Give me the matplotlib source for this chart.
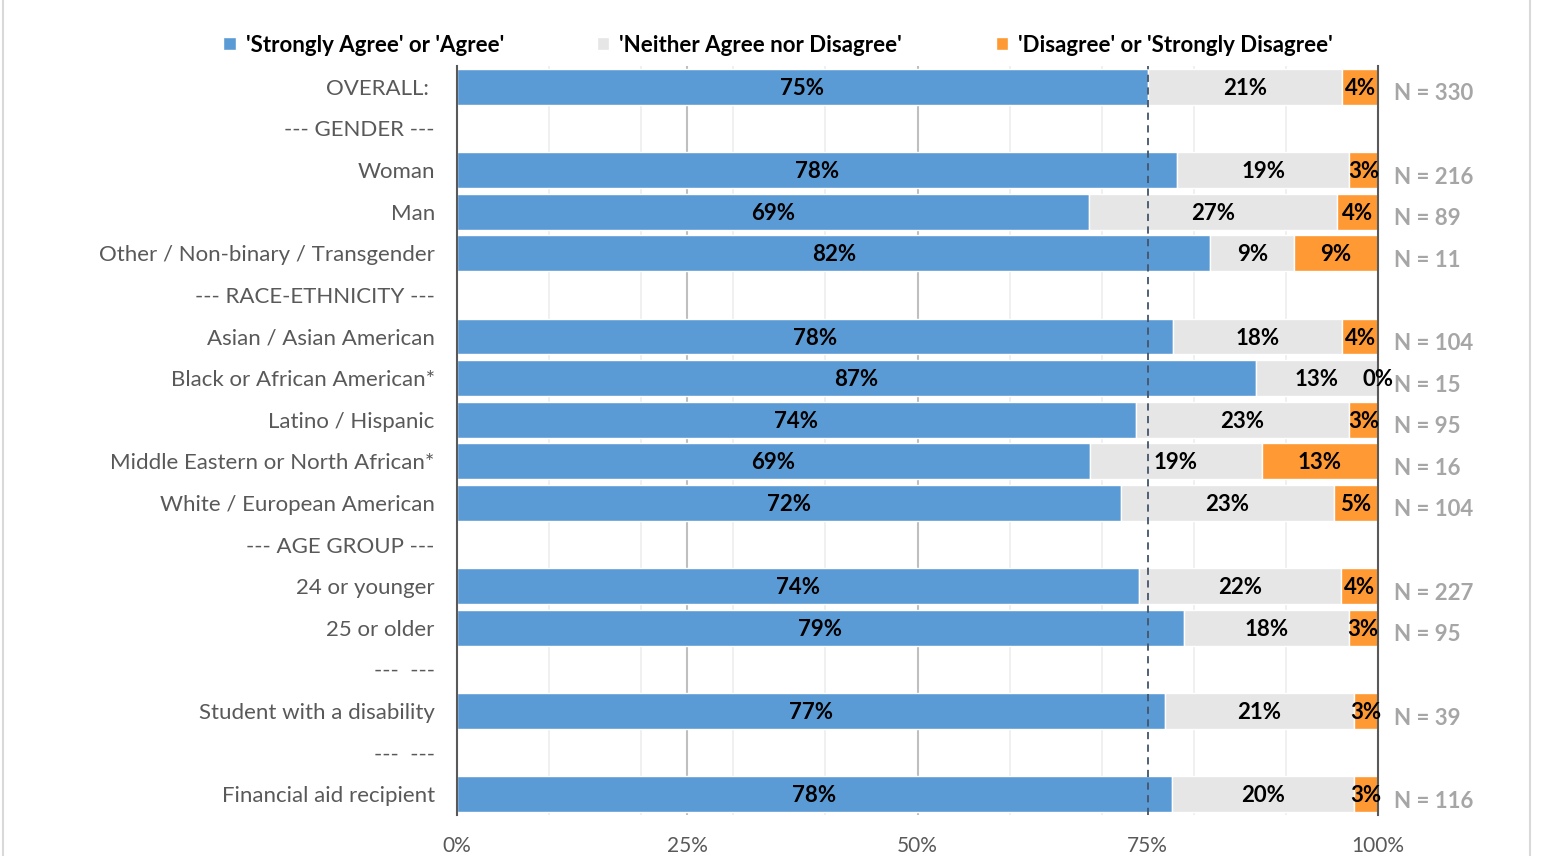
import matplotlib.pyplot as plt
import numpy as np

plt.rcParams['font.family'] = ['Lato', 'DejaVu Sans']

# categories top to bottom, header rows have no bar
categories = ['OVERALL: ', '--- GENDER ---', 'Woman', 'Man', 'Other / Non-binary / Transgender',
              '--- RACE-ETHNICITY ---', 'Asian / Asian American', 'Black or African American*',
              'Latino / Hispanic', 'Middle Eastern or North African*', 'White / European American',
              '--- AGE GROUP ---', '24 or younger', '25 or older', '---  ---',
              'Student with a disability', '---  ---', 'Financial aid recipient']
agree    = [75.0, None, 78.2, 68.6, 81.8, None, 77.7, 86.7, 73.7, 68.7, 72.1, None, 74.0, 78.9, None, 76.85, None, 77.6]
neither  = [21.1, None, 18.7, 26.9, 9.1, None, 18.4, 13.3, 23.2, 18.7, 23.1, None, 22.0, 17.9, None, 20.55, None, 19.8]
disagree = [3.9, None, 3.1, 4.5, 9.1, None, 3.9, 0.0, 3.1, 12.6, 4.8, None, 4.0, 3.2, None, 2.6, None, 2.6]
n_sizes  = [330, None, 216, 89, 11, None, 104, 15, 95, 16, 104, None, 227, 95, None, 39, None, 116]

blue = '#5B9BD5'
grey = '#E7E6E6'
orange = '#FF9933'

fig = plt.figure(figsize=(15.47, 8.56), dpi=100)
ax = fig.add_axes([457/1547, 1-815/856, (1378-457)/1547, (815-66)/856])

y = np.arange(len(categories))
rows = [i for i in y if agree[i] is not None]
a = np.array([agree[i] for i in rows])
n = np.array([neither[i] for i in rows])
d = np.array([disagree[i] for i in rows])

# gridlines
for g in range(10, 100, 10):
    if g != 50:
        ax.axvline(g, color='#EDEDED', lw=1.2, zorder=0)
for g in [25, 50]:
    ax.axvline(g, color='#BFBFBF', lw=1.5, zorder=0)

h = 0.86
ax.barh(rows, a, height=h, color=blue, edgecolor='white', lw=1, zorder=2, label="'Strongly Agree' or 'Agree'")
ax.barh(rows, n, left=a, height=h, color=grey, edgecolor='white', lw=1, zorder=2, label="'Neither Agree nor Disagree'")
ax.barh(rows, d, left=a+n, height=h, color=orange, edgecolor='white', lw=1, zorder=2, label="'Disagree' or 'Strongly Disagree'")

ax.axvline(75, color='#44546A', lw=1.3, ls=(0, (4, 3)), zorder=3)

for r, av, nv, dv in zip(rows, a, n, d):
    ax.text(av/2, r + 0.04, f'{av:.0f}%', ha='center', va='center', fontsize=16, fontweight='bold', zorder=4)
    ax.text(av+nv/2, r + 0.04, f'{nv:.0f}%', ha='center', va='center', fontsize=16, fontweight='bold', zorder=4)
    xd = av + nv + dv/2 if dv > 0 else 100
    ax.text(xd, r + 0.04, f'{dv:.0f}%', ha='center', va='center', fontsize=16, fontweight='bold', zorder=4)
    ax.text(101.7, r + 0.17, f'N = {n_sizes[r]}', ha='left', va='center', fontsize=16,
            fontweight='bold', color='#A6A6A6')

ax.set_xlim(0, 100)
ax.set_ylim(len(categories) - 0.5, -0.5)
ax.set_yticks(y)
ax.set_yticklabels(categories, fontsize=16, color='#595959')
ax.tick_params(axis='y', length=0, pad=16)
ax.set_xticks([0, 25, 50, 75, 100])
ax.set_xticklabels(['0%', '25%', '50%', '75%', '100%'], fontsize=15, color='#595959')
ax.tick_params(axis='x', length=0, pad=15)

for s in ['top', 'bottom']:
    ax.spines[s].set_visible(False)
ax.spines['left'].set_color('#595959')
ax.spines['right'].set_color('#595959')
ax.spines['left'].set_linewidth(1.5)
ax.spines['right'].set_linewidth(1.5)

fig.legend(loc='center', bbox_to_anchor=(778/1547, 1-45/856), ncol=3, frameon=False,
           prop={'size': 16, 'weight': 'bold'}, handlelength=0.55, handleheight=0.55,
           columnspacing=4.2, handletextpad=0.45)

# chart area border
fig.add_artist(plt.Line2D([3/1547, 3/1547], [0, 1], color='#D9D9D9', lw=1.5))
fig.add_artist(plt.Line2D([1530/1547, 1530/1547], [0, 1], color='#D9D9D9', lw=1.5))

fig.savefig('out.png', dpi=100)
